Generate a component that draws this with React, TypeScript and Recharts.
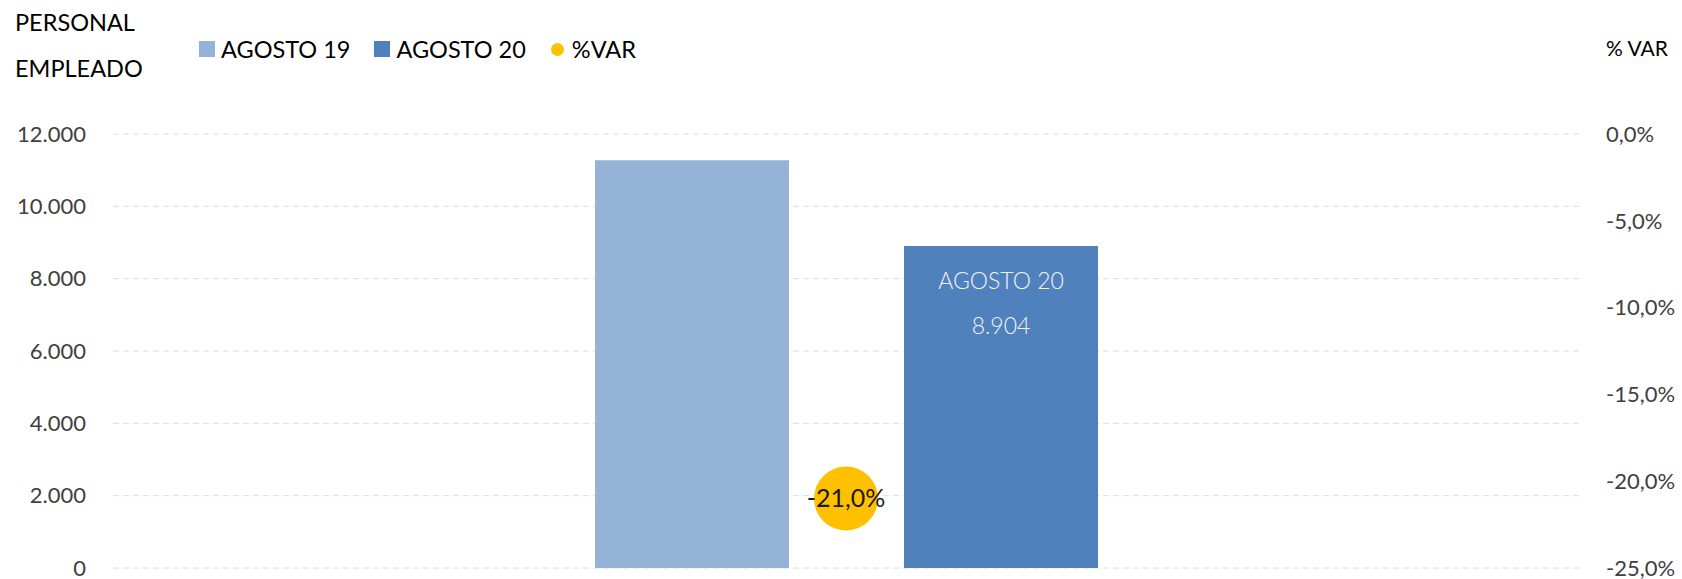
import {
  ComposedChart,
  Bar,
  Scatter,
  XAxis,
  YAxis,
  CartesianGrid,
  Legend,
  LabelList,
} from "recharts";

const categories = ["PERSONAL EMPLEADO"];
const seriesNames = ["AGOSTO 19", "AGOSTO 20", "%VAR"];
const agosto19 = [11271];
const agosto20 = [8904];
const pctVar = [-0.21];
const leftTicks = [0, 2000, 4000, 6000, 8000, 10000, 12000];
const rightTicks = [-0.25, -0.2, -0.15, -0.1, -0.05, 0];

const FONT = "Lato, 'Noto Sans', sans-serif";
const C19 = "#95B3D7";
const C20 = "#4F81BD";
const CVAR = "#FFC000";

const data = categories.map((name, i) => ({
  name,
  a19: agosto19[i],
  a20: agosto20[i],
  pct: pctVar[i],
}));

// 12000 -> "12.000"
const fmtInt = (v: number) =>
  String(Math.round(v)).replace(/\B(?=(\d{3})+(?!\d))/g, ".");
// -0.21 -> "-21,0%"
const fmtPct = (v: number) => (v * 100).toFixed(1).replace(".", ",") + "%";

const LegendContent = ({ payload }: any) => {
  const items = [...(payload || [])].sort(
    (a: any, b: any) => seriesNames.indexOf(a.value) - seriesNames.indexOf(b.value)
  );
  return (
    <div style={{ display: "flex", alignItems: "center", fontFamily: FONT, fontSize: 23.5, color: "#000", lineHeight: "24px" }}>
      {items.map((entry: any) => (
        <div key={entry.value} style={{ display: "flex", alignItems: "center", marginRight: 24 }}>
          {entry.type === "circle" ? (
            <span style={{ width: 13, height: 13, borderRadius: 7, background: entry.color, marginRight: 8, marginLeft: 1 }} />
          ) : (
            <span style={{ width: 16, height: 16, background: entry.color, marginRight: 6 }} />
          )}
          <span>{entry.value}</span>
        </div>
      ))}
    </div>
  );
};

const VarDot = (props: any) => {
  const { cx, cy, payload } = props;
  return (
    <g>
      <circle cx={cx} cy={cy} r={32} fill={CVAR} />
      <text x={cx} y={cy + 2} textAnchor="middle" dominantBaseline="middle" fontFamily={FONT} fontSize={25} fill="#1a1a1a">
        {fmtPct(payload.pct)}
      </text>
    </g>
  );
};

const BarLabel = (props: any) => {
  const { x, y, width, value } = props;
  const cx = x + width / 2;
  return (
    <g fontFamily={FONT} fontSize={23} fill="#F2F2F2" fontWeight={300} textAnchor="middle">
      <text x={cx} y={y + 37} dominantBaseline="middle">AGOSTO 20</text>
      <text x={cx} y={y + 82} dominantBaseline="middle">{fmtInt(value)}</text>
    </g>
  );
};

export default function App() {
  return (
    <div style={{ position: "absolute", left: 0, top: 0, background: "#fff" }}>
      <ComposedChart
        width={1682}
        height={579}
        data={data}
        margin={{ top: 134, right: 0, bottom: 11, left: 0 }}
        barCategoryGap={0}
        barGap={115}
        style={{ fontFamily: FONT }}
      >
        <CartesianGrid yAxisId="left" vertical={false} stroke="#DCDCDC" strokeDasharray="6 4" />
        <XAxis dataKey="name" hide />
        <YAxis
          yAxisId="left"
          width={113}
          domain={[0, 12000]}
          ticks={leftTicks}
          interval={0}
          tickFormatter={fmtInt}
          axisLine={false}
          tickLine={false}
          tickSize={0}
          tickMargin={27}
          tick={{ fill: "#404040", fontSize: 22, fontFamily: FONT }}
          label={{
            content: () => (
              <g fontFamily={FONT} fontSize={23.5} fill="#000">
                <text x={15} y={25} dominantBaseline="middle">PERSONAL</text>
                <text x={15} y={71} dominantBaseline="middle">EMPLEADO</text>
              </g>
            ),
          }}
        />
        <YAxis
          yAxisId="right"
          orientation="right"
          width={103}
          domain={[-0.25, 0]}
          ticks={rightTicks}
          interval={0}
          tickFormatter={fmtPct}
          axisLine={false}
          tickLine={false}
          tickSize={0}
          tickMargin={27}
          tick={{ fill: "#404040", fontSize: 22, fontFamily: FONT }}
          label={{
            content: () => (
              <text x={1606} y={51} dominantBaseline="middle" fontFamily={FONT} fontSize={21} fill="#000">
                % VAR
              </text>
            ),
          }}
        />
        <Legend
          verticalAlign="middle"
          layout="horizontal"
          content={<LegendContent />}
          wrapperStyle={{ top: 37, left: 199, width: 640, height: 26 }}
        />
        <Bar yAxisId="left" dataKey="a19" name="AGOSTO 19" fill={C19} barSize={194} legendType="square" isAnimationActive={false} />
        <Bar yAxisId="left" dataKey="a20" name="AGOSTO 20" fill={C20} barSize={194} legendType="square" isAnimationActive={false}>
          <LabelList dataKey="a20" content={<BarLabel />} />
        </Bar>
        <Scatter yAxisId="right" dataKey="pct" name="%VAR" fill={CVAR} legendType="circle" shape={<VarDot />} isAnimationActive={false} />
      </ComposedChart>
    </div>
  );
}
